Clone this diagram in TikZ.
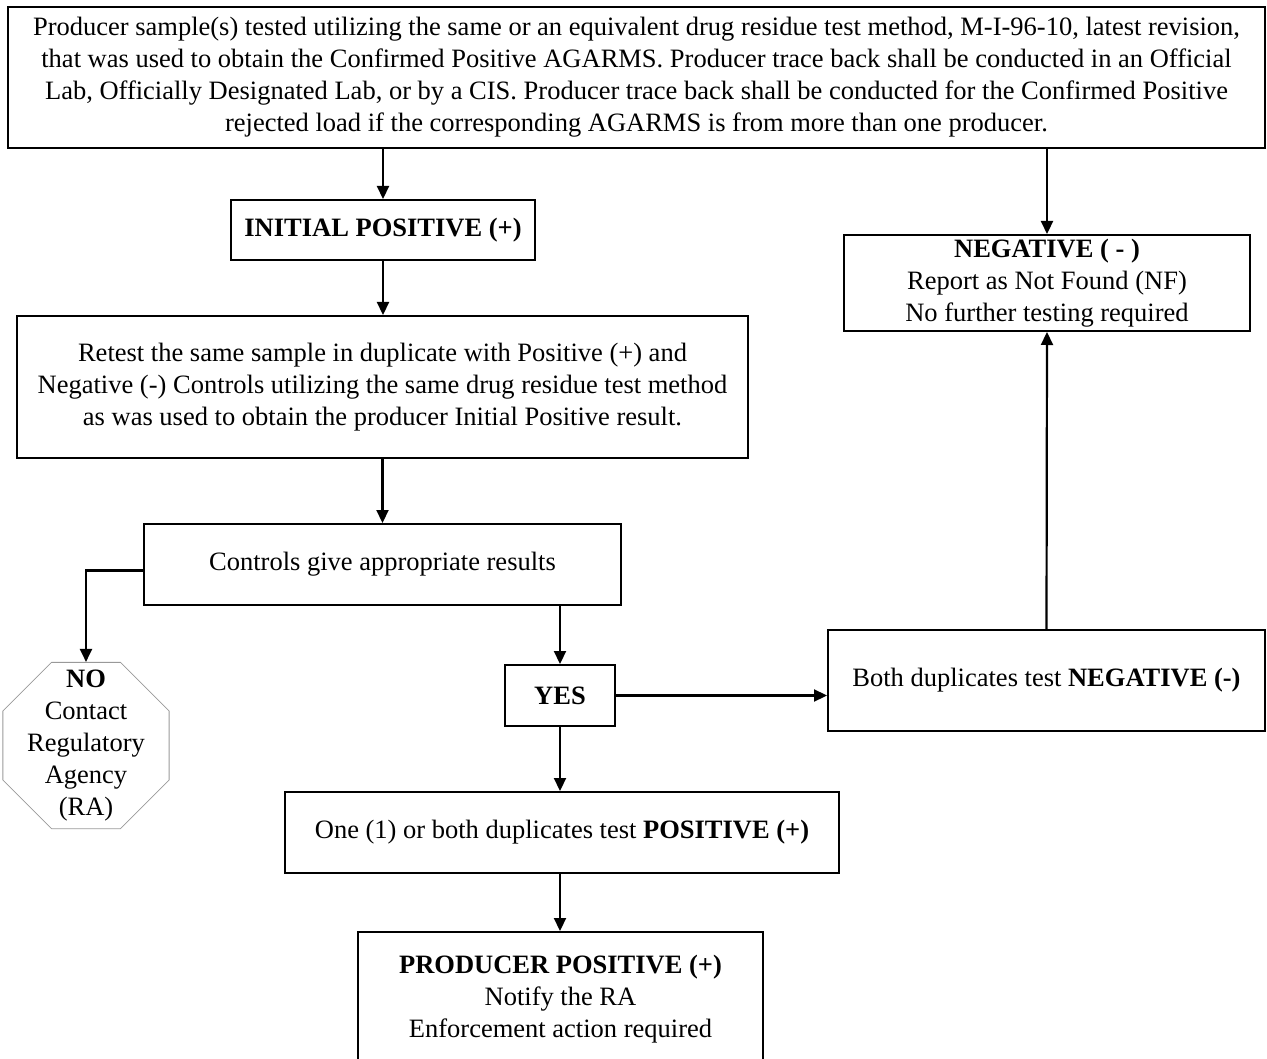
\documentclass[tikz,border=0pt]{standalone}
\usepackage{fontspec}
\setmainfont{Liberation Serif}
\usetikzlibrary{arrows.meta,shapes.geometric}
\tikzset{
  box/.style={draw, line width=2pt, align=center, inner sep=0pt, font=\fontsize{26.5}{32}\selectfont},
  arr/.style={line width=2.2pt, -{Triangle[length=13pt,width=12pt]}},
  octa/.style={draw=gray!80, line width=0.8pt, regular polygon, regular polygon sides=8, inner sep=0pt, minimum size=180pt},
  plain/.style={align=center, inner sep=0pt, font=\fontsize{26.5}{32}\selectfont}
}
\begin{document}
\begin{tikzpicture}[x=1pt,y=-1pt]
\useasboundingbox (0,0) rectangle (1267,1059);
\clip (0,0) rectangle (1267,1059);
\node[box, minimum width=1257pt, minimum height=141pt] (top) at (636.5,77.5)
  {Producer sample(s) tested utilizing the same or an equivalent drug residue test method, M-I-96-10, latest revision,\\
   that was used to obtain the Confirmed Positive AGARMS. Producer trace back shall be conducted in an Official\\
   Lab, Officially Designated Lab, or by a CIS. Producer trace back shall be conducted for the Confirmed Positive\\
   rejected load if the corresponding AGARMS is from more than one producer.};
\node[box, minimum width=304pt, minimum height=60pt] (init) at (383,230) {\textbf{INITIAL POSITIVE (+)}};
\node[box, minimum width=406pt, minimum height=96pt] (neg) at (1047,283)
  {\textbf{NEGATIVE ( - )}\\Report as Not Found (NF)\\No further testing required};
\node[box, minimum width=731pt, minimum height=142pt] (retest) at (382.5,387)
  {Retest the same sample in duplicate with Positive (+) and\\
   Negative (-) Controls utilizing the same drug residue test method\\
   as was used to obtain the producer Initial Positive result.};
\node[box, minimum width=477pt, minimum height=81pt] (ctrl) at (382.5,564.5) {Controls give appropriate results};
\node[octa] (no) at (86,745.5) {};
\node[plain] (notext) at (no.center) {\textbf{NO}\\Contact\\Regulatory\\Agency\\(RA)};
\node[box, minimum width=110pt, minimum height=61pt] (yes) at (560,695.5) {\textbf{YES}};
\node[box, minimum width=437pt, minimum height=101pt] (both) at (1046.5,680.5) {Both duplicates test \textbf{NEGATIVE (-)}};
\node[box, minimum width=554pt, minimum height=81pt] (one) at (562,832.5) {One (1) or both duplicates test \textbf{POSITIVE (+)}};
\node[box, minimum width=405pt, minimum height=134pt] (prod) at (560.5,999)
  {\textbf{PRODUCER POSITIVE (+)}\\Notify the RA\\Enforcement action required};

\draw[arr] (init.north |- top.south) -- (init.north);
\draw[arr] (neg.north |- top.south) -- (neg.north);
\draw[arr] (init.south) -- (init.south |- retest.north);
\draw[arr] (retest.south) -- (ctrl.north);
\draw[arr] ([yshift=-6pt]ctrl.west) -| (no.north);
\draw[arr] (yes.north |- ctrl.south) -- (yes.north);
\draw[arr] (yes.east) -- (yes.east -| both.west);
\draw[arr] (both.north) -- (neg.south);
\draw[arr] (yes.south) -- (yes.south |- one.north);
\draw[arr] (yes.south |- one.south) -- (yes.south |- prod.north);
\end{tikzpicture}
\end{document}
